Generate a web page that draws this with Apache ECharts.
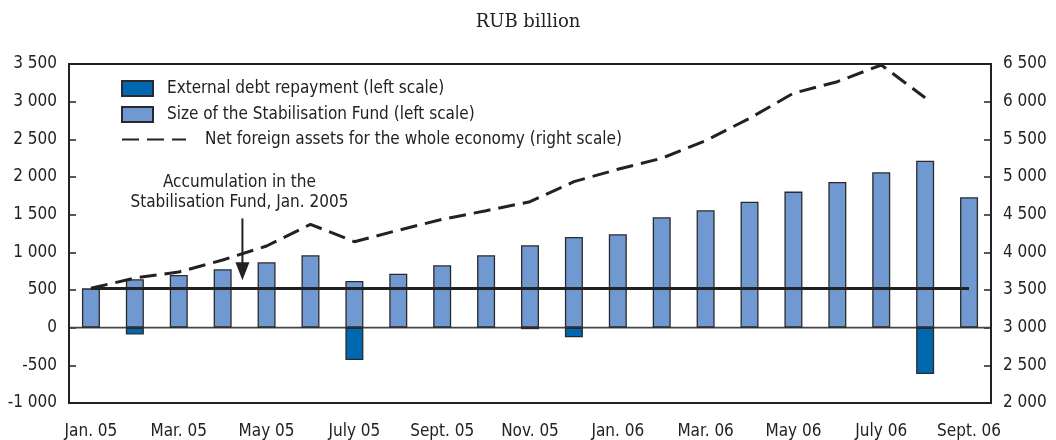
<!DOCTYPE html>
<html><head><meta charset="utf-8">
<script src="https://cdn.jsdelivr.net/npm/echarts@6/dist/echarts.min.js"></script>
<style>html,body{margin:0;padding:0;background:#fff}#c{width:1056px;height:440px}</style>
</head><body><div id="c"></div><script>
const months = ['Jan. 05','Feb. 05','Mar. 05','Apr. 05','May 05','June 05','July 05','Aug. 05','Sept. 05','Oct. 05','Nov. 05','Dec. 05','Jan. 06','Feb. 06','Mar. 06','Apr. 06','May 06','June 06','July 06','Aug. 06','Sept. 06'];
const stabFund = [522,642,700,775,868,961,620,717,828,961,1094,1204,1240,1466,1558,1673,1806,1934,2063,2217,1731];
const debtRepay = [null,-90,null,null,null,null,-429,null,null,null,-20,-128,null,null,null,null,null,null,null,-615,null];
const netForeign = [3523,3659,3739,3898,4084,4372,4141,4293,4438,4553,4672,4938,5102,5248,5482,5779,6112,6265,6487,6053,null];
const accumJan05 = 522;
const leftAxis = {min:-1000, max:3500, interval:500};
const rightAxis = {min:2000, max:6500, interval:500};
const names = ['External debt repayment (left scale)','Size of the Stabilisation Fund (left scale)','Net foreign assets for the whole economy (right scale)'];
const annotationText = 'Accumulation in the\nStabilisation Fund, Jan. 2005';
const unitText = 'RUB billion';

const FONT = '"Liberation Sans Narrow","DejaVu Sans Condensed","Liberation Sans",sans-serif';
const INK = '#222';
function fmt(v){
  const a = Math.abs(v), s = v < 0 ? '-' : '';
  if (a >= 1000) { const r = a % 1000; return s + Math.floor(a/1000) + ' ' + String(r).padStart(3,'0'); }
  return s + a;
}
const chart = echarts.init(document.getElementById('c'), null, {renderer:'canvas'});
const axisCommon = {
  axisLine:{show:true, lineStyle:{color:INK, width:2}},
  axisTick:{show:true, inside:true, length:7, lineStyle:{color:INK, width:1.5}},
  splitLine:{show:false},
  axisLabel:{color:INK, fontFamily:FONT, fontSize:17, margin:12, formatter:fmt}
};
chart.setOption({
  animation:false,
  backgroundColor:'#fff',
  title:{text:unitText, left:'center', top:8, textStyle:{fontFamily:'"DejaVu Serif","Liberation Serif",serif', fontWeight:'normal', fontSize:18, color:INK}},
  grid:{left:69, right:65, top:64, bottom:37, show:true, borderColor:INK, borderWidth:2, containLabel:false},
  legend:[
    {data:[{name:names[0], icon:'rect'}, {name:names[1], icon:'rect'}], orient:'vertical', left:121, top:80, padding:0,
     itemWidth:31, itemHeight:15, itemGap:9,
     textStyle:{fontFamily:FONT, fontSize:17, color:INK, padding:[0,0,0,9]}},
    {data:[names[2]], orient:'vertical', left:121, top:131, padding:0, itemWidth:64, itemHeight:14,
     itemStyle:{color:'rgba(0,0,0,0)', borderWidth:0, opacity:0},
     textStyle:{fontFamily:FONT, fontSize:17, color:INK, padding:[0,0,0,14]}}
  ],
  xAxis:{type:'category', data:months, boundaryGap:true,
    axisLine:{show:true, onZero:false, lineStyle:{color:INK, width:2}},
    axisTick:{show:false},
    axisLabel:{interval:1, color:INK, fontFamily:FONT, fontSize:17, margin:20}},
  yAxis:[
    Object.assign({type:'value', position:'left'}, leftAxis, axisCommon),
    Object.assign({type:'value', position:'right'}, rightAxis, axisCommon)
  ],
  series:[
    {name:names[0], type:'bar', data:debtRepay, barWidth:18, barGap:'-100%',
     itemStyle:{color:'#0067b1', borderColor:'#2a2a2a', borderWidth:1.3}, z:3},
    {name:names[1], type:'bar', data:stabFund, barWidth:18, barGap:'-100%',
     itemStyle:{color:'#7099d1', borderColor:'#2a2a2a', borderWidth:1.3}, z:2,
     markLine:{silent:true, symbol:'none', label:{show:false}, z:5,
       data:[
         [{coord:[0,accumJan05], lineStyle:{color:INK, width:3, type:'solid'}}, {coord:[20,accumJan05]}]
       ]}},
    {name:names[2], type:'line', yAxisIndex:1, data:netForeign, symbol:'none', z:6,
     lineStyle:{color:INK, width:3, type:[17,8]}, itemStyle:{color:INK}}
  ]
});
// zero line across the plot and annotation arrow, positioned from data coordinates
function addGraphics(){
  const p3 = chart.convertToPixel({xAxisIndex:0}, 3);
  const p4 = chart.convertToPixel({xAxisIndex:0}, 4);
  const ax = p3 + (p4 - p3) * 0.45;
  const yTip = chart.convertToPixel({yAxisIndex:0}, 630);
  const yTop = chart.convertToPixel({yAxisIndex:0}, 1450);
  const z0 = chart.convertToPixel({yAxisIndex:0}, 0);
  chart.setOption({graphic:[
    {type:'line', shape:{x1:70, y1:z0, x2:990, y2:z0}, style:{stroke:'#444', lineWidth:1.6}, z:1},
    {type:'line', shape:{x1:ax, y1:yTop, x2:ax, y2:yTip-14}, style:{stroke:INK, lineWidth:2}, z:10},
    {type:'polygon', shape:{points:[[ax-7,yTip-18],[ax+7,yTip-18],[ax,yTip]]}, style:{fill:INK}, z:10},
    {type:'text', x:ax-3, y:yTop-46, style:{text:annotationText, fontFamily:FONT, fontSize:17, lineHeight:20, fill:INK, align:'center', verticalAlign:'top'}, z:10}
  ]});
}
addGraphics();
</script></body></html>
